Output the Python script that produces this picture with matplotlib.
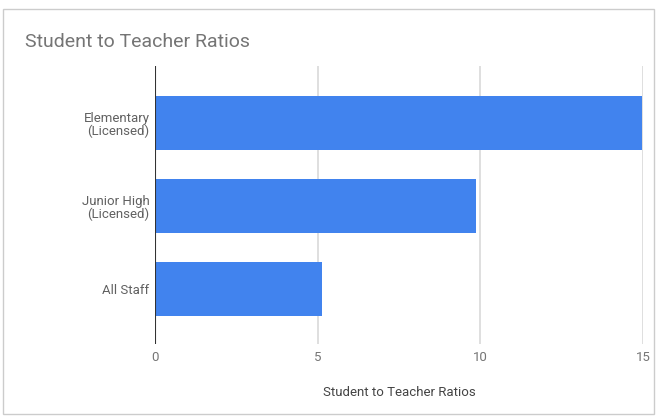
import matplotlib.pyplot as plt
from matplotlib.patches import Rectangle

# dados
categorias = ["All Staff", "Junior High\n(Licensed)", "Elementary\n(Licensed)"]
valores = [5.12, 9.88, 14.97]
ticks_x = [0, 5, 10, 15]

plt.rcParams["font.family"] = ["Roboto", "DejaVu Sans"]

fig = plt.figure(figsize=(6.58, 4.16), dpi=100)
ax = fig.add_axes([155 / 658, 1 - 344 / 416, (643 - 155) / 658, (344 - 66) / 416])

ax.barh(range(len(categorias)), valores, height=0.65, color="#4183EE", zorder=3)

ax.set_xlim(0, 15)
ax.set_ylim(-0.66, 2.69)
ax.set_xticks(ticks_x)
ax.set_xticklabels([str(t) for t in ticks_x], color="#757575", fontsize=9.5)
ax.set_yticks(range(len(categorias)))
ax.set_yticklabels(categorias, color="#616161", fontsize=9.5, linespacing=1.05)
ax.tick_params(length=0, axis="x", pad=5)
ax.tick_params(length=0, axis="y", pad=4)

for t in ticks_x[1:]:
    ax.axvline(t, color="#d9d9d9", lw=1.2, zorder=1)
ax.axvline(0, color="#333333", lw=1.5, zorder=4)

for s in ax.spines.values():
    s.set_visible(False)

ax.set_xlabel("Student to Teacher Ratios", color="#444444", fontsize=9.5, labelpad=16)

fig.text(25 / 658, 1 - 42 / 416, "Student to Teacher Ratios", fontsize=14,
         color="#757575", va="center", ha="left")

# borda do cartao
fig.patches.append(Rectangle((3 / 658, 2 / 416), 651 / 658, 1 - 11 / 416,
                             transform=fig.transFigure, fill=False,
                             edgecolor="#cccccc", lw=1))

fig.savefig("out.png", dpi=100)
